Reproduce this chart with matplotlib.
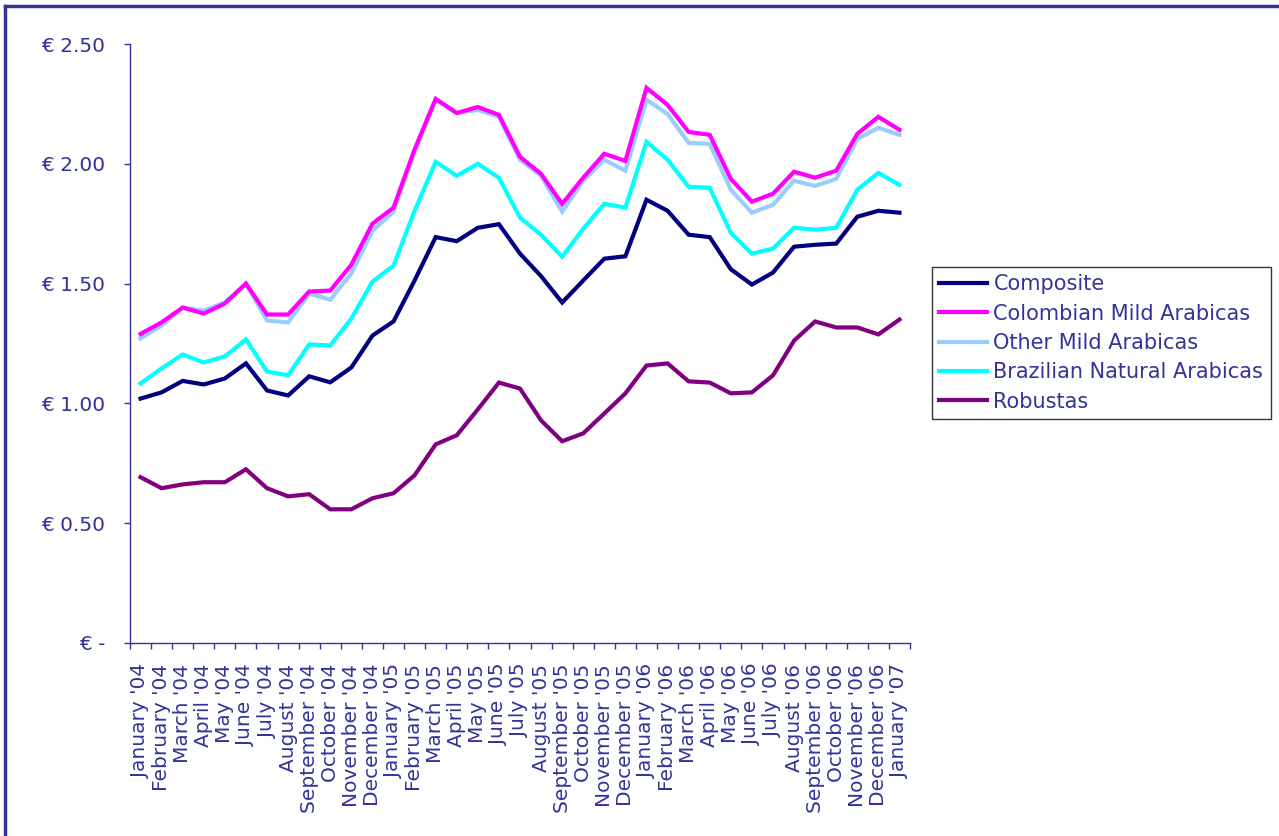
import matplotlib.pyplot as plt
from matplotlib.lines import Line2D

# month labels
months = ["January '04", "February '04", "March '04", "April '04", "May '04", "June '04",
          "July '04", "August '04", "September '04", "October '04", "November '04", "December '04",
          "January '05", "February '05", "March '05", "April '05", "May '05", "June '05",
          "July '05", "August '05", "September '05", "October '05", "November '05", "December '05",
          "January '06", "February '06", "March '06", "April '06", "May '06", "June '06",
          "July '06", "August '06", "September '06", "October '06", "November '06", "December '06",
          "January '07"]

composite = [1.02, 1.046, 1.094, 1.079, 1.104, 1.167, 1.054, 1.033, 1.113, 1.088, 1.15, 1.283,
             1.342, 1.513, 1.694, 1.677, 1.733, 1.748, 1.625, 1.531, 1.421, 1.513, 1.604, 1.614,
             1.85, 1.804, 1.704, 1.694, 1.56, 1.496, 1.546, 1.654, 1.662, 1.667, 1.779, 1.804, 1.796]
colombian = [1.29, 1.338, 1.4, 1.375, 1.417, 1.5, 1.371, 1.371, 1.467, 1.471, 1.579, 1.75,
             1.817, 2.06, 2.271, 2.212, 2.237, 2.204, 2.029, 1.958, 1.833, 1.942, 2.042, 2.012,
             2.317, 2.246, 2.133, 2.121, 1.937, 1.842, 1.875, 1.967, 1.942, 1.971, 2.125, 2.196, 2.142]
other_mild = [1.271, 1.325, 1.4, 1.387, 1.421, 1.5, 1.346, 1.338, 1.458, 1.433, 1.542, 1.72,
              1.8, 2.05, 2.267, 2.212, 2.225, 2.196, 2.017, 1.95, 1.8, 1.929, 2.017, 1.971,
              2.267, 2.208, 2.087, 2.083, 1.892, 1.796, 1.829, 1.929, 1.908, 1.937, 2.104, 2.15, 2.121]
brazilian = [1.083, 1.146, 1.204, 1.171, 1.196, 1.267, 1.133, 1.117, 1.246, 1.242, 1.354, 1.508,
             1.575, 1.804, 2.008, 1.95, 2.0, 1.942, 1.775, 1.704, 1.612, 1.729, 1.833, 1.817,
             2.092, 2.017, 1.904, 1.9, 1.712, 1.625, 1.646, 1.733, 1.725, 1.733, 1.892, 1.962, 1.912]
robustas = [0.692, 0.646, 0.662, 0.671, 0.671, 0.725, 0.646, 0.612, 0.621, 0.558, 0.558, 0.604,
            0.625, 0.70, 0.829, 0.867, 0.975, 1.087, 1.062, 0.929, 0.842, 0.875, 0.958, 1.042,
            1.158, 1.167, 1.092, 1.087, 1.042, 1.046, 1.117, 1.262, 1.342, 1.317, 1.317, 1.288, 1.35]

series = [("Composite", composite, "#000080"),
          ("Colombian Mild Arabicas", colombian, "#FF00FF"),
          ("Other Mild Arabicas", other_mild, "#99CCFF"),
          ("Brazilian Natural Arabicas", brazilian, "#00FFFF"),
          ("Robustas", robustas, "#800080")]

text_col = "#333399"
fsize = 14.5
W, H = 1279, 836
fig = plt.figure(figsize=(W / 100, H / 100), dpi=100)
ax = fig.add_axes([130 / W, 1 - 643 / H, 780 / W, 599 / H])

x = list(range(len(months)))
# draw light lines first so darker lines sit on top like the original
for name, vals, col in [series[2], series[1], series[3], series[0], series[4]]:
    ax.plot(x, vals, color=col, lw=3.0, solid_joinstyle='miter')

ax.set_xlim(-0.5, len(months) - 0.5)
ax.set_ylim(0, 2.5)
ax.set_yticks([0, 0.5, 1.0, 1.5, 2.0, 2.5])
ax.set_yticklabels(["€ -", "€ 0.50", "€ 1.00", "€ 1.50", "€ 2.00", "€ 2.50"])

ax.set_xticks(x)
ax.set_xticklabels(months, rotation=90)
ax.set_xticks([i - 0.5 for i in range(len(months) + 1)], minor=True)
ax.tick_params(axis='x', which='major', length=0, pad=15)
ax.tick_params(axis='x', which='minor', length=4.3, direction='out', color=text_col, width=1)
ax.tick_params(axis='y', length=4.3, direction='out', color=text_col, width=1, pad=13.5)
ax.tick_params(labelsize=fsize, labelcolor=text_col)

for s in ['top', 'right']:
    ax.spines[s].set_visible(False)
for s in ['left', 'bottom']:
    ax.spines[s].set_color(text_col)
    ax.spines[s].set_linewidth(1)

handles = [Line2D([], [], color=c, lw=3.0) for _, _, c in series]
leg = fig.legend(handles, [n for n, _, _ in series], loc='upper left',
                 bbox_to_anchor=(932 / W, 1 - 267 / H), fontsize=15, frameon=True,
                 fancybox=False, edgecolor='black', borderpad=0.35, handlelength=2.3,
                 handletextpad=0.3, labelspacing=0.45, borderaxespad=0)
leg.get_frame().set_linewidth(1)
for t in leg.get_texts():
    t.set_color(text_col)

# outer chart border (left and top visible)
fig.add_artist(Line2D([5 / W, 5 / W], [0, 1 - 6 / H], color=text_col, lw=2.5))
fig.add_artist(Line2D([5 / W, 1], [1 - 6 / H, 1 - 6 / H], color=text_col, lw=2.5))

fig.savefig("out.png", dpi=100)
